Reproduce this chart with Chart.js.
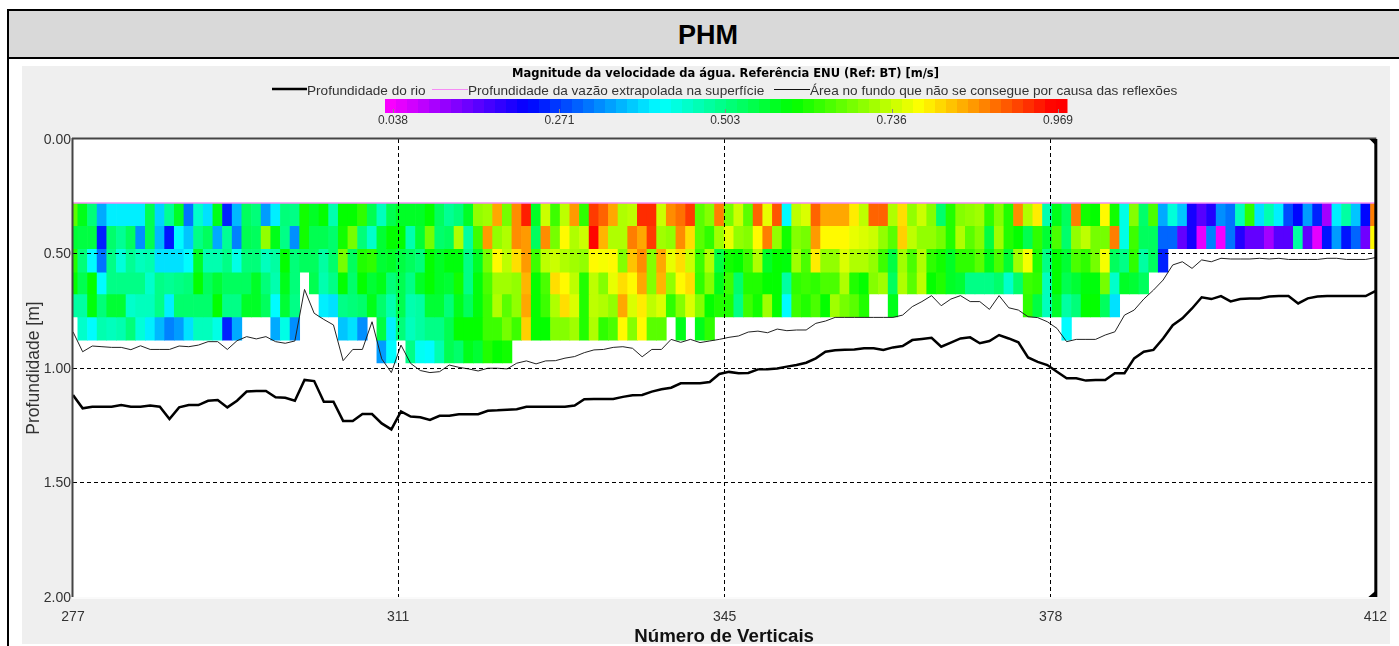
<!DOCTYPE html>
<html>
<head>
<meta charset="utf-8">
<title>PHM</title>
<script src="https://cdn.jsdelivr.net/npm/chart.js@4"></script>
<style>
  html, body { margin: 0; padding: 0; background: #fff; width: 1399px; height: 646px; overflow: hidden; }
  #head { position: absolute; left: 7px; top: 9px; width: 1392px; height: 46px; background: #d9d9d9;
    border-top: 2px solid #000; border-bottom: 2px solid #000; font: bold 27px "Liberation Sans", Arial, sans-serif;
    line-height: 49px; color: #000; }
  #head span { position: absolute; left: 671px; }
  #side { position: absolute; left: 7px; top: 9px; width: 2px; height: 637px; background: #000; }
  #panel { position: absolute; left: 22px; top: 66px; width: 1368px; height: 578px; background: #efefef; }
  canvas { position: absolute; left: 0; top: 0; }
</style>
</head>
<body>
<div id="head"><span>PHM</span></div>
<div id="side"></div>
<div id="panel"></div>
<canvas id="chart" width="1399" height="646"></canvas>
<script>
const firstVertical = 277;
const lastVertical = 412;
const verticalTicks = [277, 310.7, 344.55, 378.35, 412];

// depth limits of the ADCP cells [m], one more than there are rows
const cellEdges = [0.281, 0.379, 0.479, 0.581, 0.677, 0.777, 0.878, 0.978];

// water speed [m/s] per vertical. Short rows end where the cells end.
const speedRow0 = [
  .66,.58,.51,.35,.40,.40,.40,.40,.54,.38,.49,.57,.31,.45,.39,.58,.25,.36,.53,.51,.34,.40,.51,.50,.61,.57,.60,.47,.60,.60,.63,.54,.46,.54,
  .57,.57,.57,.60,.53,.49,.51,.57,.70,.71,.84,.68,.86,.94,.57,.74,.64,.73,.85,.63,.92,.89,.84,.72,.73,.93,.93,.74,.86,.88,.92,.66,.69,.87,
  .68,.74,.66,.89,.76,.90,.41,.73,.75,.89,.84,.84,.84,.79,.73,.89,.89,.72,.80,.70,.74,.69,.52,.62,.69,.70,.71,.63,.69,.62,.86,.72,.79,.47,.58,
  .53,.87,.61,.60,.78,.61,.43,.69,.52,.65,.35,.44,.37,.21,.16,.20,.33,.31,.46,.63,.39,.47,.40,.28,.23,.34,.25,.10,.40,.48,.37,.23,.87
];
const speedRow1 = [
  .56,.55,.55,.25,.52,.49,.53,.33,.54,.36,.24,.41,.37,.50,.53,.35,.49,.32,.54,.53,.70,.58,.50,.33,.61,.54,.54,.52,.61,.68,.51,.45,.56,.60,
  .60,.47,.56,.68,.52,.53,.72,.48,.64,.85,.70,.72,.86,.85,.53,.86,.68,.78,.72,.74,.96,.83,.72,.72,.87,.84,.92,.71,.70,.86,.80,.66,.63,.71,
  .76,.70,.69,.78,.87,.70,.61,.69,.68,.85,.78,.78,.78,.76,.75,.74,.70,.66,.81,.73,.70,.70,.68,.62,.72,.66,.69,.55,.71,.62,.60,.54,.63,.56,.65,
  .52,.70,.73,.68,.68,.87,.43,.64,.53,.53,.30,.30,.15,.21,.05,.32,.04,.31,.20,.15,.15,.10,.16,.16,.48,.15,.05,.24,.34,.24,.30,.14,.78
];
const speedRow2 = [
  .62,.51,.41,.31,.50,.44,.49,.46,.47,.39,.39,.39,.41,.57,.47,.47,.50,.43,.51,.51,.46,.48,.60,.51,.53,.53,.48,.52,.68,.53,.62,.63,.56,.57,
  .55,.53,.51,.60,.57,.59,.59,.50,.57,.68,.78,.73,.80,.85,.64,.73,.74,.72,.71,.70,.78,.77,.78,.69,.82,.86,.69,.84,.76,.80,.74,.64,.72,.55,
  .61,.60,.64,.72,.57,.60,.59,.71,.65,.79,.70,.70,.75,.72,.72,.70,.64,.55,.71,.65,.72,.63,.61,.57,.63,.63,.66,.58,.65,.56,.71,.77,.62,.50,.60,
  .56,.65,.63,.68,.77,.53,.50,.63,.48,.53,.25
];
const speedRow3 = [
  .60,.54,.60,.41,.50,.50,.50,.50,.45,.50,.49,.50,.51,.60,.53,.56,.53,.53,.53,.57,.51,.47,.58,.51,null,.54,.47,.50,.60,.52,.60,.56,.58,.51,
  .54,.50,.57,.60,.57,.56,.61,.50,.59,.65,.71,.71,.70,.83,.60,.65,.80,.78,.73,.62,.73,.69,.76,.80,.78,.84,.69,.83,.70,.78,.80,.63,.69,.58,
  .64,.52,.62,.62,.60,.60,.48,.63,.64,.63,.65,.65,.72,.62,.60,.69,.71,.53,.72,.66,.73,.60,.62,.57,.56,.50,.50,.50,.52,.45,.52,.64,.63,.46,.60,
  .54,.56,.59,.59,.68,.45,.57,.56,.53
];
const speedRow4 = [
  .48,.48,.59,.51,.56,.56,.45,.46,.46,.50,.40,.52,.52,.52,.52,.60,.50,.50,.57,.57,.53,.41,.56,.50,null,null,.40,.39,.50,.51,.52,.58,.52,.47,
  .54,.47,.48,.56,.56,.51,.58,.53,.59,.64,.72,.66,.70,.84,.60,.64,.72,.80,.75,.62,.73,.72,.70,.84,.75,.79,.73,.75,.63,.69,.75,.69,.60,.62,
  .62,.50,.64,.61,.71,.60,.41,.64,.62,.65,.60,.71,.68,.66,.62,null,null,.58,
  null,null,null,null,null,null,null,null,null,null,null,null,null,.63,.55,.46,.57,
  .48,.51,.60,.60,.53,.39
];
const speedRow5 = [
  null,.45,.41,.47,.46,.47,.51,.44,.40,.36,.32,.34,.39,.46,.46,.43,.25,.35,null,null,null,.35,.43,.33,null,null,null,null,.37,.39,.33,null,.55,.40,
  .51,.46,.48,.50,.50,.54,.60,.60,.60,.64,.64,.68,.64,.81,.60,.60,.69,.69,.71,.62,.72,.63,.65,.78,.69,.78,.66,.66,null,.58,null,.58,.63,
  null,null,null,null,null,null,null,null,null,null,null,null,null,null,null,null,null,null,
  null,null,null,null,null,null,null,null,null,null,null,null,null,null,null,null,null,null,.41
];
const speedRow6 = [
  null,null,null,null,null,null,null,null,null,null,null,null,null,null,null,null,
  null,null,null,null,null,null,null,null,null,null,null,null,null,null,null,null,.34,.41,
  null,.50,.42,.41,.47,.54,.52,.58,.56,.62,.60,.61
];
const speedRows = [speedRow0, speedRow1, speedRow2, speedRow3, speedRow4, speedRow5, speedRow6];

const riverDepth = [
  1.118,1.176,1.169,1.169,1.169,1.162,1.169,1.169,1.164,1.169,1.223,1.172,1.162,1.162,1.143,1.140,1.172,1.143,1.103,1.100,1.100,1.128,1.130,1.143,1.052,1.057,1.147,1.147,1.231,1.231,1.201,1.201,1.242,1.268,
  1.190,1.212,1.215,1.227,1.209,1.208,1.202,1.202,1.202,1.187,1.185,1.182,1.180,1.169,1.169,1.169,1.169,1.169,1.164,1.136,1.135,1.135,1.135,1.126,1.119,1.118,1.103,1.093,1.086,1.067,1.067,1.067,1.061,1.026,1.017,
  1.023,1.022,1.006,1.005,1.002,.994,.987,.977,.958,.929,.923,.920,.919,.914,.914,.921,.910,.904,.878,.873,.868,.907,.889,.871,.866,.892,.882,.856,.871,.888,.954,.973,.987,1.016,
  1.045,1.045,1.055,1.052,1.052,1.023,1.023,.958,.929,.921,.871,.813,.783,.74,.691,.699,.686,.709,.699,.696,.696,.688,.686,.686,.718,.696,.688,.686,.686,.686,.686,.686,.664
];
const reflectionDepth = [
  .842,.929,.904,.907,.910,.910,.920,.903,.919,.919,.919,.904,.907,.900,.885,.885,.919,.881,.863,.873,.863,.885,.892,.882,.657,.761,.788,.812,.968,.919,.919,.798,.960,1.02,
  .900,.98,1.011,1.02,1.016,.987,.997,1.004,1.013,1.001,1.001,1.004,.979,.969,.982,.969,.968,.957,.950,.933,.921,.919,.910,.907,.914,.951,.919,.919,.875,.888,.875,.889,.882,.875,.866,
  .860,.843,.839,.846,.830,.837,.834,.834,.805,.795,.779,.779,.779,.779,.779,.779,.779,.769,.732,.710,.684,.728,.699,.684,.710,.710,.744,.684,.737,.747,.776,.780,.798,.827,
  .885,.875,.875,.875,.856,.842,.769,.747,.699,.660,.616,.550,.536,.565,.528,.536,.521,.524,.524,.524,.521,.524,.521,.526,.526,.526,.526,.521,.521,.526,.526,.526,.518
];
const extrapolatedDepth = [0.2795, 0.2795];
const extrapolatedVerticals = [firstVertical, lastVertical];

const legendTicks = [0.038, 0.271, 0.503, 0.736, 0.969];
const paletteSpeeds = [0.03, 0.226, 0.412, 0.598, 0.776, 0.962];
const paletteColors = [[255, 0, 255], [0, 0, 255], [0, 255, 255], [0, 255, 0], [255, 255, 0], [255, 0, 0]];

function speedColor(v) {
  let i = 0;
  while (i < paletteSpeeds.length - 2 && v > paletteSpeeds[i + 1]) i++;
  const t = Math.min(1, Math.max(0, (v - paletteSpeeds[i]) / (paletteSpeeds[i + 1] - paletteSpeeds[i])));
  const c = paletteColors[i].map((a, j) => Math.round(a + (paletteColors[i + 1][j] - a) * t));
  return `rgb(${c[0]},${c[1]},${c[2]})`;
}

const lineData = (depths) => depths.map((y, k) => ({ x: firstVertical + k, y }));

const cellDatasets = speedRows.map((row, r) => ({
  type: 'bar',
  label: 'cells ' + r,
  grouped: false,
  barPercentage: 1,
  categoryPercentage: 1,
  borderWidth: 0,
  backgroundColor: (ctx) => speedColor(ctx.raw.speed),
  data: row
    .map((speed, k) => ({ x: firstVertical + k, y: [cellEdges[r], cellEdges[r + 1]], speed }))
    .filter((d) => d.speed !== null)
}));

// title, the three line samples and the colour scale above the plot
const headerPlugin = {
  id: 'header',
  afterDraw(chart) {
    const { ctx, chartArea } = chart;
    ctx.save();

    ctx.fillStyle = '#000';
    ctx.font = 'bold 11.5px "DejaVu Sans"';
    ctx.textAlign = 'center';
    ctx.textBaseline = 'middle';
    ctx.fillText('Magnitude da velocidade da água. Referência ENU (Ref: BT) [m/s]', 725.5, 74.5);

    const samples = [
      { from: 272, to: 307, y: 89, width: 2.5, color: '#000', index: 0 },
      { from: 432, to: 468, y: 89.5, width: 1, color: '#f58cf5', index: 2 },
      { from: 774, to: 810, y: 89.5, width: 1, color: '#111', index: 1 }
    ];
    ctx.textAlign = 'left';
    ctx.font = '13.6px "Liberation Sans"';
    samples.forEach((s) => {
      ctx.strokeStyle = s.color;
      ctx.lineWidth = s.width;
      ctx.beginPath();
      ctx.moveTo(s.from, s.y);
      ctx.lineTo(s.to, s.y);
      ctx.stroke();
      ctx.fillStyle = '#333';
      ctx.fillText(chart.data.datasets[s.index].label, s.to, 91);
    });

    // colour bar: 0.038 sits at 393 px and 0.969 at 1058 px
    const barLeft = 385, barRight = 1067, bands = 62;
    const speedAt = (x) => 0.038 + (x - 393) * (0.969 - 0.038) / (1058 - 393);
    const bandWidth = (barRight - barLeft) / bands;
    for (let i = 0; i < bands; i++) {
      ctx.fillStyle = speedColor(speedAt(barLeft + (i + 0.5) * bandWidth));
      ctx.fillRect(barLeft + i * bandWidth, 99, bandWidth + 0.5, 14);
    }
    ctx.textAlign = 'center';
    ctx.font = '12px "Liberation Sans"';
    legendTicks.forEach((t) => {
      const x = 393 + (t - 0.038) * (1058 - 393) / (0.969 - 0.038);
      ctx.fillStyle = '#888';
      ctx.fillRect(Math.round(x), 109, 1, 4);
      ctx.fillStyle = '#333';
      ctx.fillText(t.toFixed(3), x, 121);
    });

    // frame of the plot and the two small corners on the right side
    const { left, right, top, bottom } = chartArea;
    ctx.fillStyle = '#fafafa';
    ctx.fillRect(left - 1, bottom, right - left + 2, 2);
    ctx.fillStyle = '#444';
    ctx.fillRect(left - 1, top - 1.5, right - left + 2, 2);
    ctx.fillRect(left - 1.5, top - 1, 2, bottom - top + 1);
    ctx.fillStyle = '#000';
    ctx.fillRect(right - 1, top, 3, bottom - top);
    ctx.beginPath();
    ctx.moveTo(right - 6, top);
    ctx.lineTo(right, top);
    ctx.lineTo(right, top + 6);
    ctx.closePath();
    ctx.moveTo(right - 7, bottom);
    ctx.lineTo(right, bottom);
    ctx.lineTo(right, bottom - 6);
    ctx.closePath();
    ctx.fill();
    ctx.restore();
  }
};

const plotBackground = {
  id: 'plotBackground',
  beforeDatasetsDraw(chart) {
    const { ctx, chartArea: a } = chart;
    ctx.fillStyle = '#fff';
    ctx.fillRect(a.left, a.top, a.right - a.left, a.bottom - a.top);
  }
};

const dashedInside = (ends) => (ctx) => {
  const v = ctx.tick.value;
  return (v === ends[0] || v === ends[1]) ? 'rgba(0,0,0,0)' : '#000';
};

new Chart(document.getElementById('chart'), {
  type: 'bar',
  data: {
    datasets: [
      {
        type: 'line',
        label: 'Profundidade do rio',
        data: lineData(riverDepth),
        borderColor: '#000',
        borderWidth: 2.5,
        pointRadius: 0,
        tension: 0
      },
      {
        type: 'line',
        label: 'Área no fundo que não se consegue por causa das reflexões',
        data: lineData(reflectionDepth),
        borderColor: '#222',
        borderWidth: 1,
        pointRadius: 0,
        tension: 0
      },
      {
        type: 'line',
        label: 'Profundidade da vazão extrapolada na superfície',
        data: extrapolatedDepth.map((y, i) => ({ x: extrapolatedVerticals[i], y })),
        borderColor: '#f58cf5',
        borderWidth: 1.5,
        pointRadius: 0,
        tension: 0
      },
      ...cellDatasets
    ]
  },
  options: {
    responsive: false,
    animation: false,
    events: [],
    layout: { padding: { top: 139, left: 0, right: 22, bottom: 0 } },
    plugins: { legend: { display: false }, tooltip: { enabled: false }, title: { display: false } },
    scales: {
      x: {
        type: 'linear',
        offset: false,
        min: firstVertical,
        max: lastVertical,
        afterFit: (scale) => { scale.height = 49; },
        afterBuildTicks: (scale) => {
          scale.ticks = verticalTicks.map((value) => ({ value }));
        },
        ticks: {
          autoSkip: false,
          maxRotation: 0,
          padding: 12,
          color: '#333',
          font: { family: 'Liberation Sans', size: 14 },
          callback: (v) => Math.round(v)
        },
        grid: {
          offset: false,
          z: 1,
          drawTicks: false,
          color: dashedInside([firstVertical, lastVertical])
        },
        border: { display: false, dash: [4, 3] },
        title: {
          display: true,
          text: 'Número de Verticais',
          color: '#111',
          font: { family: 'Liberation Sans', size: 18.7, weight: 'bold' },
          padding: { top: 0, bottom: -2 }
        }
      },
      y: {
        reverse: true,
        min: 0,
        max: 2,
        afterFit: (scale) => { scale.width = 73; },
        ticks: {
          stepSize: 0.5,
          padding: 2,
          labelOffset: 1,
          color: '#333',
          font: { family: 'Liberation Sans', size: 14 },
          callback: (v) => v.toFixed(2)
        },
        grid: { z: 1, drawTicks: false, color: dashedInside([0, 2]) },
        border: { display: false, dash: [4, 3] },
        title: {
          display: true,
          text: 'Profundidade [m]',
          color: '#333',
          font: { family: 'Liberation Sans', size: 17.5 },
          padding: { top: 24, bottom: 0 }
        }
      }
    }
  },
  plugins: [plotBackground, headerPlugin]
});
</script>
</body>
</html>
